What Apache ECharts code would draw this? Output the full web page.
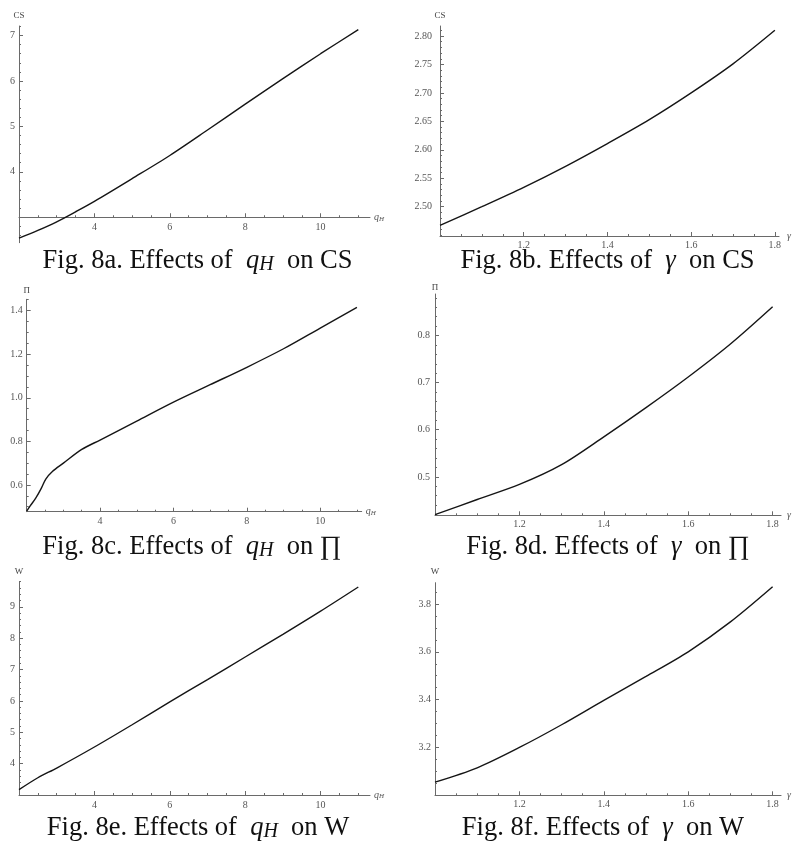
<!DOCTYPE html>
<html><head><meta charset="utf-8">
<script src="https://cdn.jsdelivr.net/npm/echarts@6/dist/echarts.min.js"></script>
<style>html,body{margin:0;padding:0;background:#fff}#c{width:792px;height:843px}</style>
</head><body><div id="c"></div>
<script>
// ---- data ----
const qA   = [2, 2.5, 3, 3.5, 4, 5, 6, 7, 8, 9, 10, 11];
const csA  = [2.54, 2.71, 2.90, 3.12, 3.35, 3.85, 4.36, 4.92, 5.49, 6.05, 6.60, 7.13];

const gB   = [1.0, 1.1, 1.2, 1.3, 1.4, 1.5, 1.6, 1.7, 1.8];
const csB  = [2.467, 2.500, 2.534, 2.571, 2.611, 2.653, 2.700, 2.751, 2.810];

const qC   = [2, 2.1, 2.25, 2.4, 2.52, 2.7, 3, 3.5, 4, 5, 6, 7, 8, 9, 10, 11];
const piC  = [0.48, 0.505, 0.54, 0.585, 0.627, 0.662, 0.70, 0.763, 0.806, 0.893, 0.98, 1.06, 1.14, 1.225, 1.32, 1.415];

const gD   = [1.0, 1.1, 1.2, 1.3, 1.4, 1.5, 1.6, 1.7, 1.8];
const piD  = [0.42, 0.452, 0.484, 0.526, 0.585, 0.647, 0.712, 0.782, 0.861];

const qE   = [2, 2.5, 3, 4, 5, 6, 7, 8, 9, 10, 11];
const wE   = [3.17, 3.55, 3.86, 4.53, 5.24, 5.97, 6.68, 7.40, 8.12, 8.86, 9.63];

const gF   = [1.0, 1.1, 1.2, 1.3, 1.4, 1.5, 1.6, 1.7, 1.8];
const wF   = [3.055, 3.115, 3.200, 3.295, 3.397, 3.497, 3.600, 3.725, 3.872];

// tick labels
const qTicks   = [4, 6, 8, 10];
const gTicks   = [1.2, 1.4, 1.6, 1.8];
const csATicks = [4, 5, 6, 7];
const csBTicks = [2.50, 2.55, 2.60, 2.65, 2.70, 2.75, 2.80];
const piCTicks = [0.6, 0.8, 1.0, 1.2, 1.4];
const piDTicks = [0.5, 0.6, 0.7, 0.8];
const wETicks  = [4, 5, 6, 7, 8, 9];
const wFTicks  = [3.2, 3.4, 3.6, 3.8];

// ---- styling / layout ----
const SERIF = "'Liberation Serif', 'DejaVu Serif', serif";
const AX = '#6a6a6a', LAB = '#555';

function steps(a, b, s) { const r = []; for (let k = 0; a + k * s <= b + 1e-9; k++) r.push(+(a + k * s).toFixed(6)); return r; }
function zip(xs, ys) { return xs.map((x, i) => [x, ys[i]]); }

const qName = { text: '{i|q}{s|H}', rich: { i: { fontFamily: SERIF, fontStyle: 'italic', fontSize: 10, color: '#555', lineHeight: 10, padding: [0, 0, 4, 0], verticalAlign: 'top' }, s: { fontFamily: SERIF, fontStyle: 'italic', fontSize: 7, color: '#555', lineHeight: 7, verticalAlign: 'bottom' } } };
const gName = { text: '{i|γ}', rich: { i: { fontFamily: SERIF, fontStyle: 'italic', fontSize: 10, color: '#555' } } };

const panels = [
  { grid: { left: 19, top: 26, width: 351, height: 216.7 },
    x: { min: 2, max: 11.31, major: [2].concat(qTicks), labels: qTicks, minor: steps(2.5, 11, 0.5), dec: 0, name: qName, gap: 4, lm: 5 },
    y: { min: 2.44, max: 7.21, major: [3].concat(csATicks), labels: csATicks, minor: steps(2.6, 7.2, 0.2), dec: 0, name: 'CS', gap: 6, lm: 4 },
    cross: 3, xs: qA, ys: csA },
  { grid: { left: 440, top: 26, width: 340, height: 210 },
    x: { min: 1.0, max: 1.81, major: gTicks, labels: gTicks, minor: steps(1.05, 1.8, 0.05), dec: 1, name: gName, gap: 8, lm: 4 },
    y: { min: 2.4485, max: 2.8176, major: csBTicks, labels: csBTicks, minor: steps(2.45, 2.81, 0.01), dec: 2, name: 'CS', gap: 6, lm: 8 },
    cross: null, xs: gB, ys: csB },
  { grid: { left: 26.7, top: 299.3, width: 335, height: 212.4 },
    x: { min: 2, max: 11.13, major: [2].concat(qTicks), labels: qTicks, minor: steps(2.5, 11, 0.5), dec: 0, name: qName, gap: 4, lm: 5 },
    y: { min: 0.477, max: 1.452, major: piCTicks, labels: piCTicks, minor: steps(0.5, 1.45, 0.05), dec: 1, name: 'Π', gap: 4, lm: 4 },
    cross: null, xs: qC, ys: piC },
  { grid: { left: 435, top: 294, width: 347.5, height: 221.3 },
    x: { min: 1.0, max: 1.82, major: gTicks, labels: gTicks, minor: steps(1.05, 1.8, 0.05), dec: 1, name: gName, gap: 6, lm: 4 },
    y: { min: 0.4185, max: 0.888, major: piDTicks, labels: piDTicks, minor: steps(0.42, 0.88, 0.02), dec: 1, name: 'Π', gap: 2, lm: 5 },
    cross: null, xs: gD, ys: piD },
  { grid: { left: 19, top: 581.7, width: 351, height: 213.3 },
    x: { min: 2, max: 11.31, major: [2].concat(qTicks), labels: qTicks, minor: steps(2.5, 11, 0.5), dec: 0, name: qName, gap: 4, lm: 5 },
    y: { min: 3.0, max: 9.8, major: wETicks, labels: wETicks, minor: steps(3.2, 9.8, 0.2), dec: 0, name: 'W', gap: 6, lm: 4 },
    cross: null, xs: qE, ys: wE },
  { grid: { left: 435, top: 582.7, width: 347.5, height: 212.6 },
    x: { min: 1.0, max: 1.82, major: gTicks, labels: gTicks, minor: steps(1.05, 1.8, 0.05), dec: 1, name: gName, gap: 6, lm: 4 },
    y: { min: 3.0, max: 3.889, major: wFTicks, labels: wFTicks, minor: steps(3.05, 3.85, 0.05), dec: 1, name: 'W', gap: 7, lm: 4 },
    cross: null, xs: gF, ys: wF }
];

const captions = [
  { cx: 197.5, base: 270, pre: 'Fig. 8a. Effects of  ', sym: 'q', sub: 'H', post: '  on CS' },
  { cx: 607.5, base: 270, pre: 'Fig. 8b. Effects of  ', sym: 'γ', sub: '', post: '  on CS' },
  { cx: 192,   base: 556, pre: 'Fig. 8c. Effects of  ', sym: 'q', sub: 'H', post: '  on ∏' },
  { cx: 608,   base: 556, pre: 'Fig. 8d. Effects of  ', sym: 'γ', sub: '', post: '  on ∏' },
  { cx: 198,   base: 837, pre: 'Fig. 8e. Effects of  ', sym: 'q', sub: 'H', post: '  on W' },
  { cx: 603,   base: 837, pre: 'Fig. 8f. Effects of  ', sym: 'γ', sub: '', post: '  on W' }
];

const option = { animation: false, backgroundColor: '#fff', grid: [], xAxis: [], yAxis: [], series: [], graphic: [] };

panels.forEach((p, i) => {
  option.grid.push(Object.assign({ containLabel: false }, p.grid));
  const off = p.cross == null ? 0 : -(p.cross - p.y.min) / (p.y.max - p.y.min) * p.grid.height;
  option.xAxis.push({
    type: 'value', gridIndex: i, min: p.x.min, max: p.x.max, position: 'bottom', offset: off,
    axisLine: { show: true, onZero: false, lineStyle: { color: AX, width: 1 } },
    axisTick: { show: true, inside: true, length: 4, customValues: p.x.major, lineStyle: { color: AX, width: 1 } },
    axisLabel: { show: true, customValues: p.x.labels, margin: p.x.lm, color: LAB, fontFamily: SERIF, fontSize: 10,
      formatter: v => (+v).toFixed(p.x.dec) },
    splitLine: { show: false }, minorTick: { show: false },
    name: p.x.name.text, nameLocation: 'end', nameGap: p.x.gap,
    nameTextStyle: { rich: p.x.name.rich, fontFamily: SERIF, fontStyle: 'italic', fontSize: 10, color: '#555', verticalAlign: 'middle' }
  }, {
    type: 'value', gridIndex: i, min: p.x.min, max: p.x.max, position: 'bottom', offset: off,
    axisLine: { show: false, onZero: false },
    axisTick: { show: true, inside: true, length: 2, customValues: p.x.minor, lineStyle: { color: AX, width: 1 } },
    axisLabel: { show: false }, splitLine: { show: false }
  });
  option.yAxis.push({
    type: 'value', gridIndex: i, min: p.y.min, max: p.y.max, position: 'left',
    axisLine: { show: true, onZero: false, lineStyle: { color: AX, width: 1 } },
    axisTick: { show: true, inside: true, length: 4, customValues: p.y.major, lineStyle: { color: AX, width: 1 } },
    axisLabel: { show: true, customValues: p.y.labels, margin: p.y.lm, color: LAB, fontFamily: SERIF, fontSize: 10,
      formatter: v => (+v).toFixed(p.y.dec) },
    splitLine: { show: false },
    name: p.y.name, nameLocation: 'end', nameGap: p.y.gap,
    nameTextStyle: { fontFamily: SERIF, fontSize: 9, color: '#444', align: 'center' }
  }, {
    type: 'value', gridIndex: i, min: p.y.min, max: p.y.max, position: 'left',
    axisLine: { show: false, onZero: false },
    axisTick: { show: true, inside: true, length: 2, customValues: p.y.minor, lineStyle: { color: AX, width: 1 } },
    axisLabel: { show: false }, splitLine: { show: false }
  });
  option.series.push({
    type: 'line', xAxisIndex: 2 * i, yAxisIndex: 2 * i, data: zip(p.xs, p.ys),
    showSymbol: false, smooth: 0.3, clip: false,
    lineStyle: { color: '#151515', width: 1.4 }
  });
});

const FS = 26.5;
captions.forEach(c => {
  const top = c.base - 0.83 * FS;
  option.graphic.push({
    type: 'text', silent: true,
    style: {
      x: c.cx, y: top, align: 'center', verticalAlign: 'top',
      text: '{n|' + c.pre + '}{i|' + c.sym + '}' + (c.sub ? '{s|' + c.sub + '}' : '') + '{n|' + c.post + '}',
      rich: {
        n: { fontFamily: SERIF, fontSize: FS, fill: '#111', lineHeight: FS, verticalAlign: 'top' },
        i: { fontFamily: SERIF, fontSize: FS, fontStyle: 'italic', fill: '#111', lineHeight: FS, padding: [0, 0, 10, 0], verticalAlign: 'top' },
        s: { fontFamily: SERIF, fontSize: 20, fontStyle: 'italic', fill: '#111', lineHeight: 20, verticalAlign: 'bottom' }
      }
    }
  });
});

const chart = echarts.init(document.getElementById('c'));
chart.setOption(option);
</script>
</body></html>
